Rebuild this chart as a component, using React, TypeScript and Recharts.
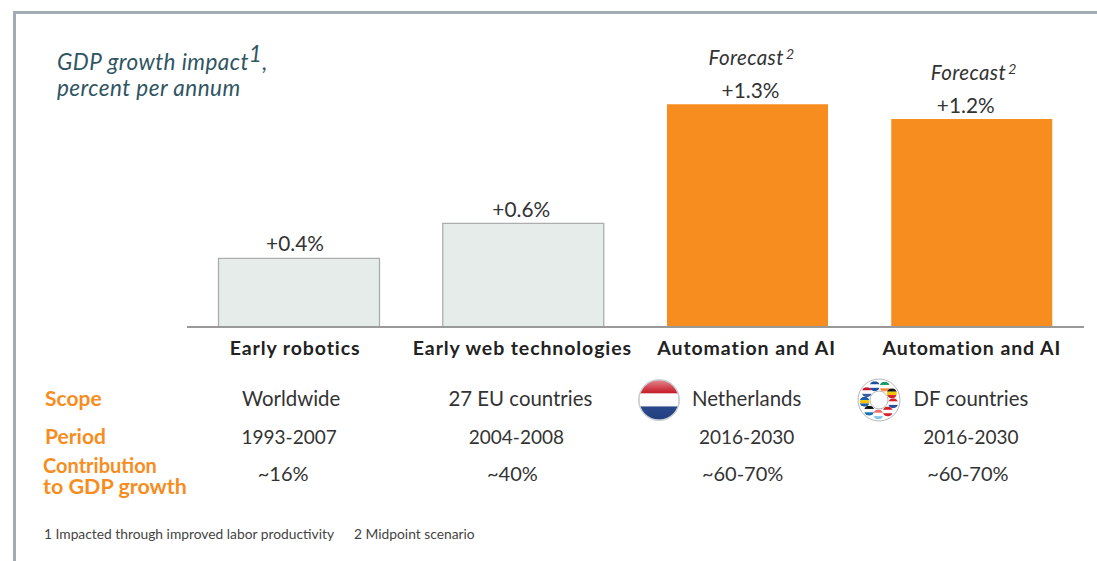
import React from "react";
import { BarChart, Bar, XAxis, YAxis, Cell, LabelList } from "recharts";

const categories = ["Early robotics", "Early web technologies", "Automation and AI", "Automation and AI"];
const impact = [0.4, 0.605, 1.3, 1.213];
const impactLabels = ["+0.4%", "+0.6%", "+1.3%", "+1.2%"];
const forecast = [false, false, true, true];
const scopes = ["Worldwide", "27 EU countries", "Netherlands", "DF countries"];
const periods = ["1993-2007", "2004-2008", "2016-2030", "2016-2030"];
const contributions = ["~16%", "~40%", "~60-70%", "~60-70%"];
const dfFlags = [
  ["#1f4e9c", "#ffffff", "#1f4e9c"],
  ["#169b62", "#ffffff", "#ff883e"],
  ["#111111", "#f7c600", "#d8202c"],
  ["#d8202c", "#ffffff", "#2a4d9c"],
  ["#d8202c", "#ffffff", "#d8202c"],
  ["#ef6a6a", "#ffffff", "#7fc4ea"],
  ["#111111", "#ffffff", "#1b6fb5"],
  ["#1b5fa8", "#f7c600", "#1b5fa8"],
  ["#c8102e", "#ffffff", "#3a5fa8"],
];

const data = categories.map((name, i) => ({ name, impact: impact[i], i }));

const FONT = "Lato, 'Open Sans', sans-serif";
const TEXT = "#333";
const ORANGE = "#F78D1E";
const NUDGE_LABEL = [-4, -2, 3, -6];
const NUDGE_LABEL_Y = [-7, -6, -6, -6];
const NUDGE_FORECAST = [0, 0, 4, 2];
const NUDGE_NAME = [-4, -1, -1, 0];
const NUDGE_SCOPE = [-8, -3, -1, -1];
const NUDGE_PERIOD = [-10, -7, -1, -1];
const NUDGE_CONTRIB = [-16, -11, -5, -4];

function Flag3({ cx, cy, r, colors, id }: { cx: number; cy: number; r: number; colors: string[]; id: string }) {
  return (
    <g>
      <clipPath id={id}><circle cx={cx} cy={cy} r={r} /></clipPath>
      <g clipPath={`url(#${id})`}>
        <rect x={cx - r} y={cy - r} width={2 * r} height={(2 * r) / 3} fill={colors[0]} />
        <rect x={cx - r} y={cy - r + (2 * r) / 3} width={2 * r} height={(2 * r) / 3} fill={colors[1]} />
        <rect x={cx - r} y={cy - r + (4 * r) / 3} width={2 * r} height={(2 * r) / 3} fill={colors[2]} />
      </g>
    </g>
  );
}

function AxisTick({ x, payload, index }: any) {
  const i = payload?.index ?? index ?? 0;
  const common = { textAnchor: "middle" as const, fontFamily: FONT, fill: TEXT };
  return (
    <g>
      <text x={x + NUDGE_NAME[i]} y={355} {...common} fontSize={19.5} letterSpacing={0.9} fontWeight={700} fill="#222">{payload.value}</text>
      <text x={x + NUDGE_SCOPE[i]} y={406} {...common} fontSize={20.4}>{scopes[i]}</text>
      <text x={x + NUDGE_PERIOD[i]} y={444} {...common} fontSize={19}>{periods[i]}</text>
      <text x={x + NUDGE_CONTRIB[i]} y={481} {...common} fontSize={20}>{contributions[i]}</text>
    </g>
  );
}

function ValueLabel({ x, y, width, index }: any) {
  const cx = x + width / 2;
  return (
    <g fontFamily={FONT}>
      <text x={cx + NUDGE_LABEL[index]} y={y + NUDGE_LABEL_Y[index]} textAnchor="middle" fontSize={20.8} fill={TEXT}>{impactLabels[index]}</text>
      {forecast[index] && (
        <text x={cx + NUDGE_FORECAST[index]} y={y - 39} textAnchor="middle" fontSize={20.5} letterSpacing={0.4} fontStyle="italic" fill={TEXT}>
          Forecast
          <tspan dx={2} dy={-6} fontSize={14}>2</tspan>
        </text>
      )}
    </g>
  );
}

function DfIcon() {
  const cx = 879, cy = 400, R = 21, ring = 14.5;
  return (
    <g>
      <circle cx={cx} cy={cy} r={R} fill="#fff" stroke="#b4b8ba" strokeWidth={1} />
      {dfFlags.map((c, i) => {
        const a = (i / dfFlags.length) * 2 * Math.PI - Math.PI / 2 - 0.3;
        return <Flag3 key={i} id={`df${i}`} cx={cx + ring * Math.cos(a)} cy={cy + ring * Math.sin(a)} r={5} colors={c} />;
      })}
      <circle cx={cx} cy={cy} r={9} fill="#fff" stroke="#b4b8ba" strokeWidth={1} />
    </g>
  );
}

export default function App() {
  return (
    <div style={{ position: "absolute", left: 0, top: 0, width: 1097, height: 561, background: "#fff", overflow: "hidden" }}>
      <div style={{ position: "absolute", left: 13, top: 11, right: -5, bottom: -5, borderLeft: "3px solid #a2acb4", borderTop: "3px solid #a2acb4" }} />
      <BarChart width={1097} height={561} data={data} margin={{ top: 27, right: 13, bottom: 0, left: 187 }} barCategoryGap={31.5} style={{ position: "absolute", left: 0, top: 0 }}>
        <defs>
          <linearGradient id="nlShade" x1="0" y1="0" x2="0" y2="1">
            <stop offset="0" stopColor="#ffffff" stopOpacity={0.45} />
            <stop offset="0.3" stopColor="#ffffff" stopOpacity={0} />
            <stop offset="1" stopColor="#000000" stopOpacity={0.1} />
          </linearGradient>
        </defs>
        <YAxis hide domain={[0, 1.75]} />
        <XAxis dataKey="name" interval={0} axisLine={{ stroke: "#999", strokeWidth: 2 }} tickLine={false} height={234} tick={<AxisTick />} allowDuplicatedCategory={true} />
        <Bar dataKey="impact" isAnimationActive={false}>
          {data.map((d, i) => (
            <Cell key={i} fill={forecast[i] ? ORANGE : "#E6ECE9"} stroke={forecast[i] ? ORANGE : "#aaaeac"} strokeWidth={forecast[i] ? 0 : 1.3} />
          ))}
          <LabelList dataKey="impact" content={<ValueLabel />} />
        </Bar>
        <g>
          <text x={57} y={70} fontFamily={FONT} fontSize={22.5} letterSpacing={0.45} fontStyle="italic" fill="#2f5563">
            GDP growth impact<tspan dy={-8} fontSize={22.5}>1</tspan><tspan dy={8}>,</tspan>
            <tspan x={57} dy={26}>percent per annum</tspan>
          </text>
          <text x={45} y={406} fontFamily={FONT} fontSize={21} fontWeight={700} fill={ORANGE}>Scope</text>
          <text x={45} y={444} fontFamily={FONT} fontSize={21} fontWeight={700} fill={ORANGE}>Period</text>
          <text x={43} y={473} fontFamily={FONT} fontSize={20} fontWeight={700} fill={ORANGE}>
            Contribution
            <tspan x={43} dy={21} fontSize={21.5}>to GDP growth</tspan>
          </text>
          <text x={44} y={539} fontFamily={FONT} fontSize={13.8} fill="#444">1 Impacted through improved labor productivity</text>
          <text x={354} y={539} fontFamily={FONT} fontSize={13.8} fill="#444">2 Midpoint scenario</text>
          <circle cx={659} cy={400} r={21} fill="#c9cdd0" />
          <Flag3 id="nl" cx={659} cy={400} r={19.5} colors={["#c8202c", "#ffffff", "#24448c"]} />
          <circle cx={659} cy={400} r={19.5} fill="url(#nlShade)" />
          <DfIcon />
        </g>
      </BarChart>
    </div>
  );
}
